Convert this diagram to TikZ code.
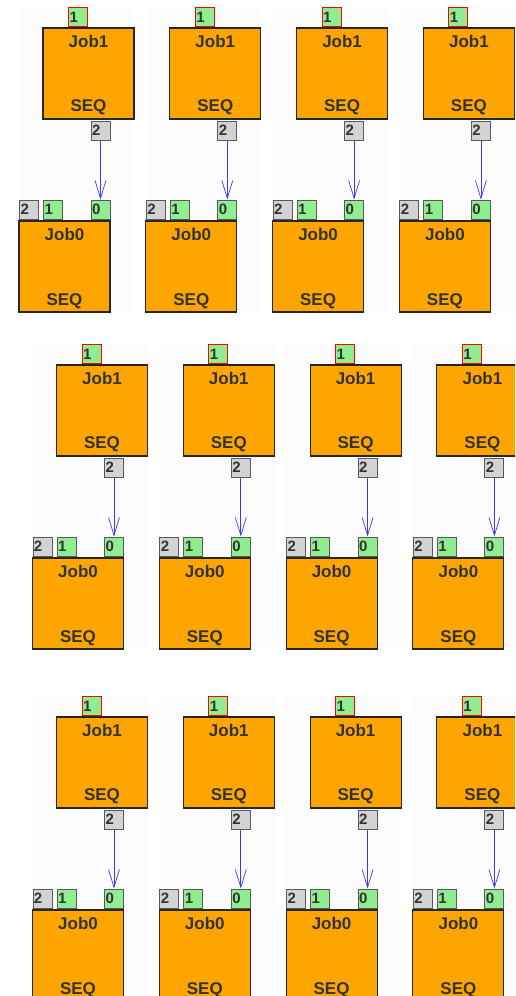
\documentclass[tikz,border=0pt]{standalone}
\usepackage{fontspec}
\setmainfont{Liberation Sans}
\usetikzlibrary{arrows.meta}
\definecolor{jobor}{HTML}{FFA500}
\definecolor{portg}{HTML}{90EE90}
\definecolor{portgray}{HTML}{D3D3D3}
\definecolor{txt}{HTML}{333333}
\definecolor{panelbg}{HTML}{FCFCFC}
\definecolor{arrblue}{HTML}{3A3AFF}
\begin{document}
\begin{tikzpicture}[x=1pt,y=-1pt,
 jobbox/.style={draw=black!85, line width=1.1pt, fill=jobor, minimum width=91pt, minimum height=91pt, inner sep=0pt},
 jobtext/.style={font=\bfseries\fontsize{17}{17}\selectfont, text=txt, anchor=base, inner sep=0pt},
 port/.style={draw=black!65, line width=0.9pt, minimum height=19pt, inner xsep=1pt, inner ysep=0pt, text width=17pt, align=left, font=\bfseries\fontsize{15}{15}\selectfont, text=txt},
 greenport/.style={port, fill=portg},
 grayport/.style={port, fill=portgray},
 topport/.style={port, fill=portg, draw=red},
 link/.style={draw=arrblue, line width=0.8pt, -{Straight Barb[length=18pt,width=11pt,line width=0.7pt]}},
 panel/.style={fill=panelbg, draw=none}]
\useasboundingbox (0,0) rectangle (515,996);
\clip (0,0) rectangle (515,996);
\fill[white] (0,0) rectangle (515,996);
\foreach \r/\lo/\T in {1/43/28,2/56.5/365,3/56.5/717}{
 \foreach \c in {0,1,2,3}{
  \pgfmathsetmacro\L{\lo+126.8*\c}
  \fill[panel] (\L-24,\T-21) rectangle (\L+91,\T+284);
  % Job1
  \node[jobbox] (ja-\r-\c) at (\L+45.5,\T+45.5) {};
  \node[jobtext] (jat-\r-\c) at (\L+45.5,\T+19.7) {Job1};
  \node[jobtext] (jas-\r-\c) at (\L+45.5,\T+83.7) {SEQ};
  \node[topport] (pin-\r-\c) at (\L+35,\T-11) {1};
  \node[grayport] (pout-\r-\c) at (\L+57.5,\T+102.5) {2};
  % Job0
  \node[jobbox] (jb-\r-\c) at (\L+21.5,\T+238.5) {};
  \node[jobtext] (jbt-\r-\c) at (\L+21.5,\T+212) {Job0};
  \node[jobtext] (jbs-\r-\c) at (\L+21.5,\T+277) {SEQ};
  \node[grayport] (qa-\r-\c) at (\L-14,\T+181.5) {2};
  \node[greenport] (qb-\r-\c) at (\L+10,\T+181.5) {1};
  \node[greenport] (qc-\r-\c) at (\L+57.5,\T+181.5) {0};
  \draw[link] (pout-\r-\c.south) -- (qc-\r-\c.north);
 }
}
\end{tikzpicture}
\end{document}
